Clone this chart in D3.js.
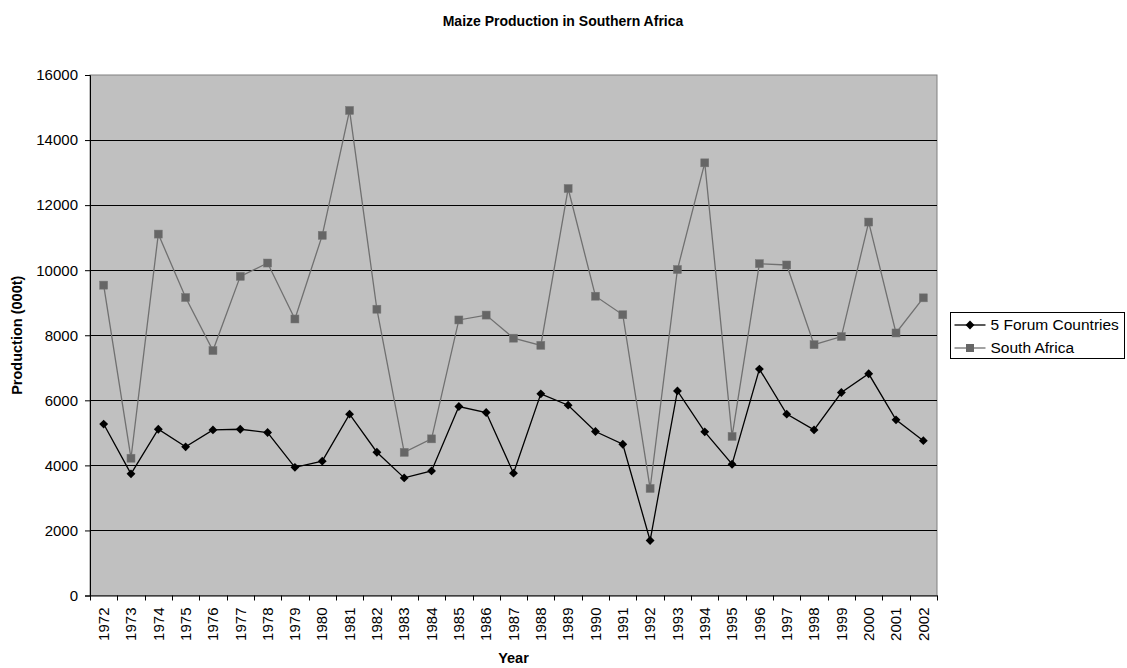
<!DOCTYPE html>
<html>
<head>
<meta charset="utf-8">
<script src="https://cdn.jsdelivr.net/npm/d3@7"></script>
<style>
  body { margin: 0; background: #fff; }
  text { font-family: "Liberation Sans", Arial, sans-serif; }
</style>
</head>
<body>
<div id="chart"></div>
<script>
const years = d3.range(1972, 2003).map(String);
const forumValues = [5270, 3740, 5110, 4570, 5090, 5110, 5010, 3940, 4130, 5575,
  4405, 3615, 3830, 5810, 5625, 3760, 6200, 5850, 5040, 4650,
  1690, 6290, 5030, 4035, 6960, 5575, 5090, 6240, 6815, 5400, 4760];
const southAfricaValues = [9540, 4220, 11110, 9160, 7530, 9810, 10220, 8500, 11070, 14910,
  8800, 4400, 4815, 8470, 8620, 7910, 7690, 12510, 9200, 8630,
  3290, 10020, 13300, 4890, 10200, 10160, 7710, 7960, 11480, 8070, 9150];
const yTicks = [0, 2000, 4000, 6000, 8000, 10000, 12000, 14000, 16000];
const seriesNames = ["5 Forum Countries", "South Africa"];

const W = 1127, H = 668;
const margin = { top: 75, right: 190, bottom: 72, left: 90 };
const width = 937 - margin.left;
const height = 595.5 - margin.top;

const svg = d3.select("#chart").append("svg")
  .attr("width", W).attr("height", H);

svg.append("text")
  .attr("x", 563).attr("y", 26)
  .attr("text-anchor", "middle")
  .style("font-size", "14px").style("font-weight", "bold")
  .text("Maize Production in Southern Africa");

const g = svg.append("g").attr("transform", `translate(${margin.left},${margin.top})`);

const x = d3.scaleBand().domain(years).range([0, width]);
const y = d3.scaleLinear().domain([0, 16000]).range([height, 0]);

g.append("rect").attr("width", width).attr("height", height)
  .attr("fill", "#c0c0c0").attr("stroke", "#808080").attr("stroke-width", 1);

// gridlines
g.selectAll(".grid").data(yTicks.slice(1, -1)).enter().append("line")
  .attr("x1", 0).attr("x2", width)
  .attr("y1", d => Math.round(y(d)) + 0.5).attr("y2", d => Math.round(y(d)) + 0.5)
  .attr("stroke", "#000").attr("stroke-width", 1);

// y axis
const yAxis = g.append("g")
  .call(d3.axisLeft(y).tickValues(yTicks).tickSize(5).tickPadding(7).tickFormat(d3.format("d")));
yAxis.selectAll("text").style("font-size", "15px").attr("fill", "#000");
yAxis.select(".domain").attr("stroke", "#000");

// x axis
const xAxis = g.append("g").attr("transform", `translate(0,${height})`)
  .call(d3.axisBottom(x).tickSize(0).tickSizeOuter(0));
xAxis.select(".domain").attr("stroke", "#000");
xAxis.selectAll("text")
  .style("font-size", "15px").attr("fill", "#000")
  .attr("transform", "rotate(-90)")
  .attr("text-anchor", "end")
  .attr("x", -12).attr("y", 0).attr("dy", "0.35em");
// tick marks at category boundaries
g.selectAll(".xtick").data(years.concat(["end"])).enter().append("line")
  .attr("x1", (d, i) => Math.round(i * x.bandwidth()) + 0.5)
  .attr("x2", (d, i) => Math.round(i * x.bandwidth()) + 0.5)
  .attr("y1", height).attr("y2", height + 5)
  .attr("stroke", "#000");

const cx = d => x(d) + x.bandwidth() / 2;

// South Africa
const saColor = "#666666";
g.append("path").datum(southAfricaValues)
  .attr("fill", "none").attr("stroke", "#707070").attr("stroke-width", 1.3)
  .attr("d", d3.line().x((d, i) => cx(years[i])).y(d => y(d)));
g.selectAll(".sq").data(southAfricaValues).enter().append("rect")
  .attr("x", (d, i) => cx(years[i]) - 4).attr("y", d => y(d) - 4)
  .attr("width", 8).attr("height", 8)
  .attr("fill", saColor).attr("stroke", "#777").attr("stroke-width", 0.5);

// Forum countries
g.append("path").datum(forumValues)
  .attr("fill", "none").attr("stroke", "#000").attr("stroke-width", 1.3)
  .attr("d", d3.line().x((d, i) => cx(years[i])).y(d => y(d)));
const diamond = d3.symbol().type(d3.symbolDiamond2).size(50);
g.selectAll(".dm").data(forumValues).enter().append("path")
  .attr("d", diamond)
  .attr("transform", (d, i) => `translate(${cx(years[i])},${y(d)})`)
  .attr("fill", "#000");

// axis titles
svg.append("text")
  .attr("transform", `translate(22,${margin.top + height / 2}) rotate(-90)`)
  .attr("text-anchor", "middle")
  .style("font-size", "14.5px").style("font-weight", "bold")
  .text("Production (000t)");
svg.append("text")
  .attr("x", margin.left + width / 2).attr("y", 663)
  .attr("text-anchor", "middle")
  .style("font-size", "14.5px").style("font-weight", "bold")
  .text("Year");

// legend
const lg = svg.append("g").attr("transform", "translate(950.5,312.5)");
lg.append("rect").attr("width", 174).attr("height", 46)
  .attr("fill", "#fff").attr("stroke", "#000");
seriesNames.forEach((name, i) => {
  const ly = 12.5 + i * 23;
  const col = i === 0 ? "#000" : "#707070";
  lg.append("line").attr("x1", 4).attr("x2", 35).attr("y1", ly).attr("y2", ly)
    .attr("stroke", col).attr("stroke-width", 1.3);
  if (i === 0) {
    lg.append("path").attr("d", diamond).attr("transform", `translate(19.5,${ly})`).attr("fill", "#000");
  } else {
    lg.append("rect").attr("x", 15.5).attr("y", ly - 4).attr("width", 8).attr("height", 8).attr("fill", saColor);
  }
  lg.append("text").attr("x", 40).attr("y", ly).attr("dy", "0.35em")
    .style("font-size", "15.5px").text(name);
});
</script>
</body>
</html>
